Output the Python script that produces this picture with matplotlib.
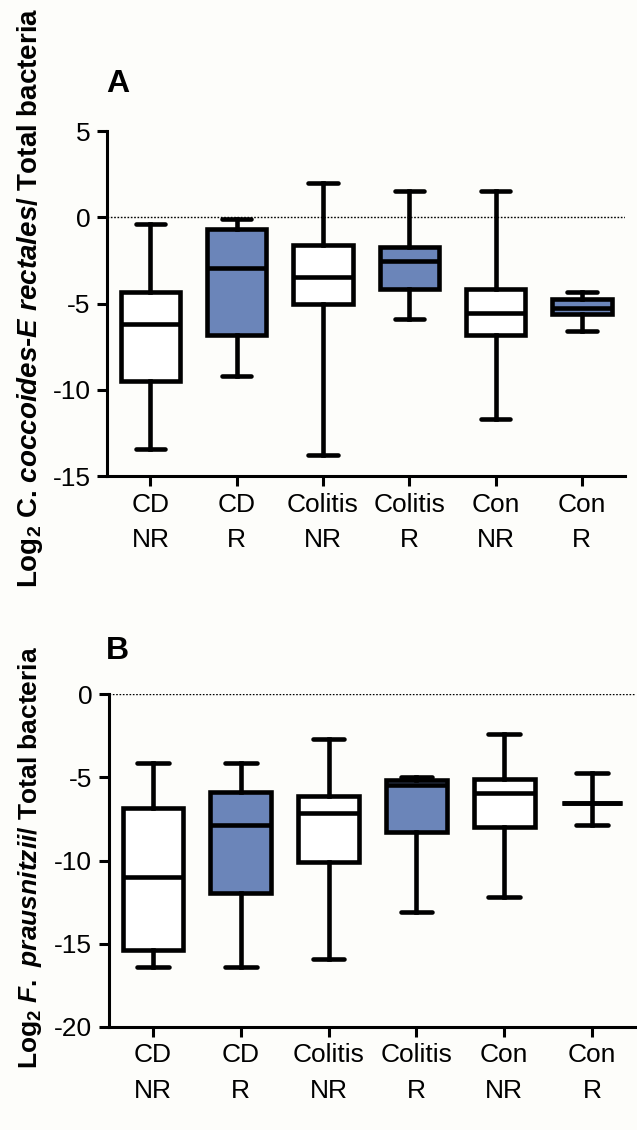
import matplotlib
matplotlib.use("Agg")
import matplotlib.pyplot as plt

plt.rcParams['font.family'] = ['Liberation Sans', 'DejaVu Sans']
plt.rcParams['axes.unicode_minus'] = False
plt.rcParams['mathtext.fontset'] = 'custom'
plt.rcParams['mathtext.rm'] = 'Liberation Sans:bold'
plt.rcParams['mathtext.it'] = 'Liberation Sans:italic:bold'
plt.rcParams['mathtext.bf'] = 'Liberation Sans:bold'

groups = ['CD\nNR', 'CD\nR', 'Colitis\nNR', 'Colitis\nR', 'Con\nNR', 'Con\nR']
fills = ['white', '#6b85b9', 'white', '#6b85b9', 'white', '#6b85b9']

# panel A: C. coccoides-E rectales
a_low = [-13.45, -9.22, -13.8, -5.9, -11.7, -6.58]
a_q1 = [-9.5, -6.83, -5.0, -4.16, -6.83, -5.61]
a_med = [-6.2, -2.94, -3.48, -2.55, -5.55, -5.28]
a_q3 = [-4.35, -0.68, -1.59, -1.74, -4.16, -4.74]
a_high = [-0.39, -0.1, 2.0, 1.5, 1.5, -4.31]

# panel B: F. prausnitzii
b_low = [-16.4, -16.4, -15.95, -13.08, -12.2, -7.87]
b_q1 = [-15.4, -11.98, -10.07, -8.27, -8.0, -6.52]
b_med = [-10.97, -7.87, -7.12, -5.46, -5.92, -6.52]
b_q3 = [-6.86, -5.86, -6.12, -5.16, -5.12, -6.52]
b_high = [-4.15, -4.15, -2.7, -5.0, -2.39, -4.75]

W, H = 637, 1130
fig = plt.figure(figsize=(W / 100, H / 100), dpi=100)
fig.patch.set_facecolor('#fdfdfa')


def draw(ax, low, q1, med, q3, high, ylim, yticks, capw):
    stats = []
    for i in range(len(groups)):
        stats.append({'whislo': low[i], 'q1': q1[i], 'med': med[i],
                      'q3': q3[i], 'whishi': high[i], 'fliers': []})
    pos = list(range(1, len(groups) + 1))
    parts = ax.bxp(stats, positions=pos, widths=0.69, capwidths=capw,
                   patch_artist=True, showfliers=False,
                   boxprops=dict(linewidth=3.3, edgecolor='black'),
                   whiskerprops=dict(linewidth=3.3, color='black'),
                   capprops=dict(linewidth=3.3, color='black', solid_capstyle='round'),
                   medianprops=dict(linewidth=3.3, color='black'))
    for box, c in zip(parts['boxes'], fills):
        box.set_facecolor(c)
    ax.axhline(0, color='black', linestyle=(0, (1.2, 1.2)), linewidth=1.0, zorder=0)
    ax.set_xlim(0.5, 6.5)
    ax.set_ylim(*ylim)
    ax.set_yticks(yticks)
    ax.set_xticks(pos)
    ax.set_xticklabels(groups, linespacing=1.6)
    ax.set_facecolor('#fdfdfa')
    for s in ['top', 'right']:
        ax.spines[s].set_visible(False)
    for s in ['left', 'bottom']:
        ax.spines[s].set_linewidth(2.2)
    ax.tick_params(axis='both', length=7, width=2.2, labelsize=19, pad=5)


axA = fig.add_axes([107.3 / W, 1 - 476 / H, (625 - 107.3) / W, (476 - 131) / H])
draw(axA, a_low, a_q1, a_med, a_q3, a_high, (-15, 5), [-15, -10, -5, 0, 5], 0.34)

axB = fig.add_axes([109 / W, 1 - 1026.7 / H, (636 - 109) / W, (1026.7 - 694.3) / H])
draw(axB, b_low, b_q1, b_med, b_q3, b_high, (-20, 0), [-20, -15, -10, -5, 0], 0.36)

fig.text(106 / W, 1 - 84 / H, 'A', fontsize=23, fontweight='bold', ha='left', va='center')
fig.text(106 / W, 1 - 651 / H, 'B', fontsize=23, fontweight='bold', ha='left', va='center')

fig.text(30 / W, 1 - 298 / H,
         r'Log$_2$ C. $coccoides$-$E\ rectales/$ Total bacteria',
         rotation=90, fontsize=20, fontweight='bold', ha='center', va='center')
fig.text(30 / W, 1 - 858 / H,
         r'Log$_2$ $F.\ prausnitzii/$ Total bacteria',
         rotation=90, fontsize=19, fontweight='bold', ha='center', va='center')

fig.savefig('out.png', dpi=100, facecolor=fig.get_facecolor())
